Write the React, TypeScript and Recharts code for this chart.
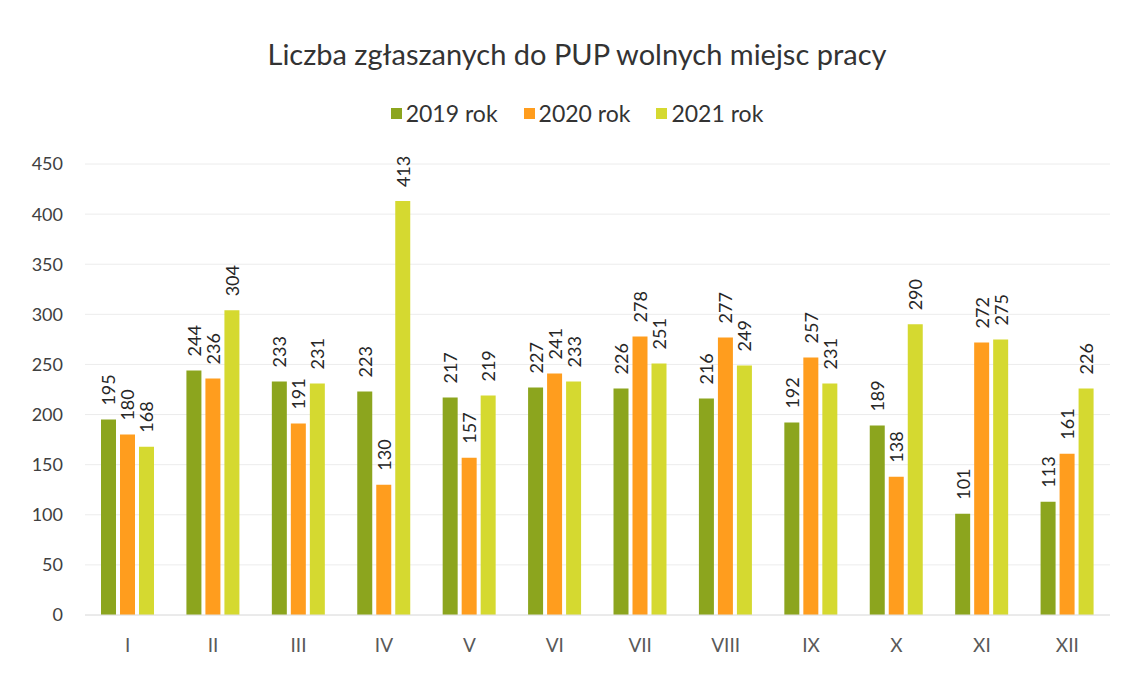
import React from 'react';
import { BarChart, Bar, XAxis, YAxis, CartesianGrid } from 'recharts';

const months = ['I', 'II', 'III', 'IV', 'V', 'VI', 'VII', 'VIII', 'IX', 'X', 'XI', 'XII'];
const y2019 = [195, 244, 233, 223, 217, 227, 226, 216, 192, 189, 101, 113];
const y2020 = [180, 236, 191, 130, 157, 241, 278, 277, 257, 138, 272, 161];
const y2021 = [168, 304, 231, 413, 219, 233, 251, 249, 231, 290, 275, 226];
const yTicks = [0, 50, 100, 150, 200, 250, 300, 350, 400, 450];
const seriesNames = ['2019 rok', '2020 rok', '2021 rok'];
const seriesColors = ['#8ca51e', '#ff9d1e', '#d5d930'];

const data = months.map((m, i) => ({ m, a: y2019[i], b: y2020[i], c: y2021[i] }));

const FONT = 'Lato, "Open Sans", sans-serif';

const VLabel = (props: any) => {
  const { x, y, width, value } = props;
  const cx = x + width / 2;
  const cy = y - 14;
  return (
    <text
      x={cx}
      y={cy}
      transform={`rotate(-90 ${cx} ${cy})`}
      textAnchor="start"
      dominantBaseline="central"
      fontSize={18}
      fontFamily={FONT}
      fill="#262626"
    >
      {value}
    </text>
  );
};

export default function App() {
  return (
    <div style={{ position: 'absolute', left: 0, top: 0, width: 1130, height: 674, background: '#fff' }}>
      <div
        style={{
          position: 'absolute',
          top: 36,
          left: 0,
          width: 1154,
          textAlign: 'center',
          fontFamily: FONT,
          fontSize: 29,
          color: '#333',
        }}
      >
        Liczba zgłaszanych do PUP wolnych miejsc pracy
      </div>
      <div
        style={{
          position: 'absolute',
          top: 99,
          left: 0,
          width: 1154,
          display: 'flex',
          justifyContent: 'center',
          gap: 26,
          fontFamily: FONT,
          fontSize: 23,
          color: '#333',
        }}
      >
        {seriesNames.map((n, i) => (
          <div key={n} style={{ display: 'flex', alignItems: 'center' }}>
            <span style={{ width: 11, height: 11, background: seriesColors[i], marginRight: 4, display: 'inline-block' }} />
            <span>{n}</span>
          </div>
        ))}
      </div>
      <BarChart
        width={1130}
        height={674}
        data={data}
        margin={{ top: 164, right: 20, bottom: 29, left: 25 }}
        barSize={15}
        barGap={4}
      >
        <CartesianGrid vertical={false} stroke="#ececec" />
        <XAxis
          dataKey="m"
          axisLine={{ stroke: '#e0e0e0' }}
          tickLine={false}
          tickSize={0}
          tickMargin={24}
          tick={{ fontSize: 19, fill: '#595959', fontFamily: FONT }}
        />
        <YAxis
          width={60}
          domain={[0, 450]}
          ticks={yTicks}
          axisLine={false}
          tickLine={false}
          tickSize={0}
          tickMargin={22}
          tick={{ fontSize: 18, fill: '#404040', fontFamily: FONT }}
        />
        <Bar dataKey="a" name={seriesNames[0]} fill={seriesColors[0]} isAnimationActive={false} label={<VLabel />} />
        <Bar dataKey="b" name={seriesNames[1]} fill={seriesColors[1]} isAnimationActive={false} label={<VLabel />} />
        <Bar dataKey="c" name={seriesNames[2]} fill={seriesColors[2]} isAnimationActive={false} label={<VLabel />} />
      </BarChart>
    </div>
  );
}
